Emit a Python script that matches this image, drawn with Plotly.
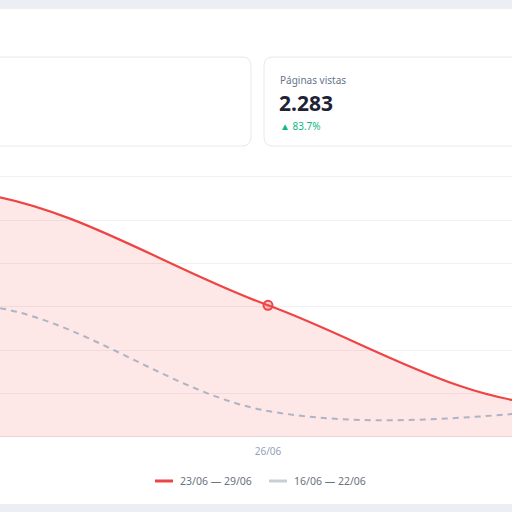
import plotly.graph_objects as go

# ---- data ----
days = ["23/06", "24/06", "25/06", "26/06", "27/06", "28/06", "29/06"]
current_week = [264, 500, 562, 304, 75, 300, 278]      # 23/06 — 29/06
previous_week = [300, 170, 304, 60, 62, 175, 172]     # 16/06 — 22/06
series_names = ["23/06 — 29/06", "16/06 — 22/06"]
highlight_index = 3
kpi_label = "Páginas vistas"
kpi_value = "2.283"
kpi_change = "▲ 83.7%"

W, H = 512, 512
RED = "#ef4444"
GRAY_LINE = "rgba(148,163,184,0.75)"
FONT = "Noto Sans"

def px(x):
    return x / W

def py(y):
    return 1 - y / H

def rounded_rect(x0, y0, x1, y1, r):
    pts = [
        f"M {px(x0 + r)},{py(y0)}",
        f"L {px(x1 - r)},{py(y0)}",
        f"Q {px(x1)},{py(y0)} {px(x1)},{py(y0 + r)}",
        f"L {px(x1)},{py(y1 - r)}",
        f"Q {px(x1)},{py(y1)} {px(x1 - r)},{py(y1)}",
        f"L {px(x0 + r)},{py(y1)}",
        f"Q {px(x0)},{py(y1)} {px(x0)},{py(y1 - r)}",
        f"L {px(x0)},{py(y0 + r)}",
        f"Q {px(x0)},{py(y0)} {px(x0 + r)},{py(y0)}",
        "Z",
    ]
    return " ".join(pts)

x_idx = list(range(len(days)))

fig = go.Figure()

fig.add_trace(go.Scatter(
    x=x_idx, y=current_week, mode="lines", name=series_names[0],
    line=dict(color=RED, width=2.2, shape="spline", smoothing=1),
    fill="tozeroy", fillcolor="rgba(239,68,68,0.13)",
    showlegend=False, hoverinfo="skip",
))
fig.add_trace(go.Scatter(
    x=x_idx, y=previous_week, mode="lines", name=series_names[1],
    line=dict(color=GRAY_LINE, width=2, dash="6px,5px", shape="spline", smoothing=1),
    showlegend=False, hoverinfo="skip",
))
fig.add_trace(go.Scatter(
    x=[x_idx[highlight_index]], y=[current_week[highlight_index]], mode="markers",
    marker=dict(size=9, color="rgba(239,68,68,0.25)", line=dict(color=RED, width=2)),
    showlegend=False, hoverinfo="skip",
))

spacing = 290.0  # pixels per day
center_px = 268.0
x0 = highlight_index - center_px / spacing
x1 = highlight_index + (W - center_px) / spacing

plot_bottom = 437
px_per_unit = 260 / 600.0
y_max = 610
plot_top = plot_bottom - y_max * px_per_unit

fig.update_layout(
    width=W, height=H,
    margin=dict(l=0, r=0, t=0, b=0),
    paper_bgcolor="#eceef3",
    plot_bgcolor="rgba(0,0,0,0)",
    font=dict(family=FONT, color="#64748b"),
    xaxis=dict(
        range=[x0, x1], domain=[0, 1],
        tickvals=x_idx, ticktext=days,
        showgrid=False, zeroline=False, showline=False, ticks="",
        tickfont=dict(size=10, color="#94a3b8", family=FONT),
        ticklabelstandoff=7,
    ),
    yaxis=dict(
        range=[0, y_max], tick0=0, dtick=100,
        domain=[py(plot_bottom), py(plot_top)],
        showticklabels=False, showgrid=True, gridcolor="#f1f1f3", gridwidth=1,
        zeroline=True, zerolinecolor="#e8e8ec", zerolinewidth=1,
    ),
    showlegend=False,
)

shapes = [
    dict(type="rect", xref="paper", yref="paper", x0=0, x1=1, y0=py(504), y1=py(9),
         fillcolor="white", line=dict(width=0), layer="below"),
    dict(type="path", xref="paper", yref="paper", path=rounded_rect(-12, 57, 251, 146, 9),
         fillcolor="white", line=dict(color="#e6e8ee", width=1), layer="below"),
    dict(type="path", xref="paper", yref="paper", path=rounded_rect(264, 57, 530, 146, 9),
         fillcolor="white", line=dict(color="#e6e8ee", width=1), layer="below"),
    dict(type="line", xref="paper", yref="paper", x0=px(155), x1=px(173), y0=py(481), y1=py(481),
         line=dict(color=RED, width=3)),
    dict(type="line", xref="paper", yref="paper", x0=px(269), x1=px(287), y0=py(481), y1=py(481),
         line=dict(color="#c8ced8", width=3)),
]

annotations = [
    dict(text=kpi_label, x=px(278), y=py(80), xref="paper", yref="paper",
         xanchor="left", yanchor="middle", showarrow=False,
         font=dict(size=10, color="#64748b", family=FONT)),
    dict(text=f"<b>{kpi_value}</b>", x=px(277), y=py(103), xref="paper", yref="paper",
         xanchor="left", yanchor="middle", showarrow=False,
         font=dict(size=21, color="#1e2235", family=FONT)),
    dict(text=kpi_change, x=px(278), y=py(126), xref="paper", yref="paper",
         xanchor="left", yanchor="middle", showarrow=False,
         font=dict(size=10, color="#10b981", family=FONT)),
    dict(text=series_names[0], x=px(178), y=py(481), xref="paper", yref="paper",
         xanchor="left", yanchor="middle", showarrow=False,
         font=dict(size=10.5, color="#6b7280", family=FONT)),
    dict(text=series_names[1], x=px(292), y=py(481), xref="paper", yref="paper",
         xanchor="left", yanchor="middle", showarrow=False,
         font=dict(size=10.5, color="#6b7280", family=FONT)),
]

fig.update_layout(shapes=shapes, annotations=annotations)

fig.write_html("out.html", config={"displayModeBar": False})
